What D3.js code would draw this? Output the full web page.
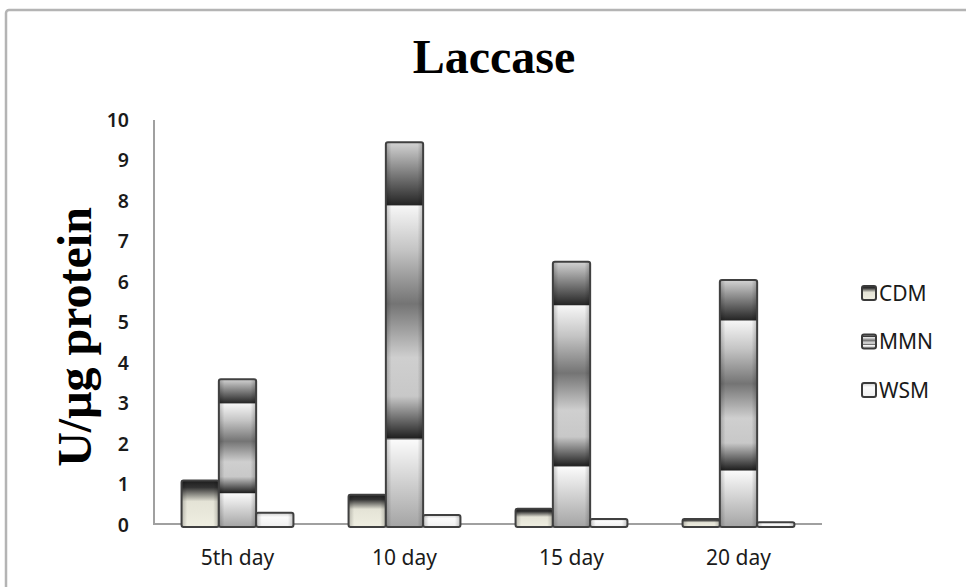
<!DOCTYPE html>
<html><head><meta charset="utf-8">
<script src="https://cdn.jsdelivr.net/npm/d3@7/dist/d3.min.js"></script>
<style>body{margin:0;background:#fff}svg{display:block}</style>
</head><body>
<svg id="chart" width="966" height="587"></svg>
<script>
const categories = ["5th day", "10 day", "15 day", "20 day"];
const seriesNames = ["CDM", "MMN", "WSM"];
const cdmValues = [1.1, 0.75, 0.4, 0.15];
const mmnValues = [3.6, 9.45, 6.5, 6.05];
const wsmValues = [0.3, 0.25, 0.15, 0.07];
const yTickValues = [0, 1, 2, 3, 4, 5, 6, 7, 8, 9, 10];

const seriesValues = {CDM: cdmValues, MMN: mmnValues, WSM: wsmValues};
const svg = d3.select("#chart");
const defs = svg.append("defs");

function grad(id, stops) {
  const g = defs.append("linearGradient").attr("id", id)
    .attr("x1", 0).attr("y1", 0).attr("x2", 0).attr("y2", 1);
  stops.forEach(s => g.append("stop").attr("offset", s[0]).attr("stop-color", s[1]));
}
grad("g-CDM", [[0, "#1c1c1c"], [0.15, "#333"], [0.45, "#e4e3d6"], [1, "#efeee1"]]);
grad("g-MMN", [[0, "#d4d4d4"], [0.162, "#262626"], [0.166, "#f6f6f6"], [0.28, "#c4c4c4"],
  [0.42, "#747474"], [0.56, "#cfcfcf"], [0.66, "#c8c8c8"], [0.768, "#222"], [0.775, "#fafafa"], [1, "#a4a4a4"]]);
grad("g-WSM", [[0, "#cfcfcf"], [0.3, "#fbfbfb"], [1, "#efefef"]]);
const hg = defs.append("linearGradient").attr("id", "g-edge").attr("x1", 0).attr("x2", 1).attr("y1", 0).attr("y2", 0);
[[0, 0.22], [0.15, 0], [0.85, 0], [1, 0.22]].forEach(s => hg.append("stop").attr("offset", s[0]).attr("stop-color", "#000").attr("stop-opacity", s[1]));

// outer frame
svg.append("rect").attr("x", 6).attr("y", 10).attr("width", 990).attr("height", 620)
  .attr("fill", "none").attr("stroke", "#b4b4b4").attr("stroke-width", 2.5).attr("rx", 3);

const x = d3.scaleBand().domain(categories).range([154, 822]).paddingInner(0.33).paddingOuter(0.165);
const xs = d3.scaleBand().domain(seriesNames).range([0, x.bandwidth()]);
const y = d3.scaleLinear().domain([0, 10]).range([525, 120]);

// axes lines
svg.append("line").attr("x1", 154).attr("x2", 154).attr("y1", y(10)).attr("y2", y(0) - 1).attr("stroke", "#a0a0a0").attr("stroke-width", 2);
svg.append("line").attr("x1", 153).attr("x2", 822).attr("y1", y(0) - 1).attr("y2", y(0) - 1).attr("stroke", "#a0a0a0").attr("stroke-width", 2);

// y ticks
const yAxis = svg.append("g").attr("transform", "translate(154,0)")
  .call(d3.axisLeft(y).tickValues(yTickValues).tickSize(0).tickPadding(25).tickFormat(d3.format("d")));
yAxis.select(".domain").remove();
yAxis.selectAll("text").attr("font-family", "Noto Sans").attr("font-size", 19.5).attr("fill", "#1a1a1a").attr("font-weight", 600);

// x labels
const xAxis = svg.append("g").attr("transform", `translate(0,${y(0)})`)
  .call(d3.axisBottom(x).tickSize(0).tickPadding(25));
xAxis.select(".domain").remove();
xAxis.selectAll("text").attr("font-family", "Noto Sans").attr("font-size", 21).attr("fill", "#1a1a1a");

// bars
const groups = svg.append("g").selectAll("g").data(categories).join("g")
  .attr("transform", d => `translate(${x(d)},0)`);
groups.each(function(cat, i) {
  const g = d3.select(this);
  seriesNames.forEach(s => {
    const v = seriesValues[s][i];
    const bx = xs(s), by = y(v), bw = xs.bandwidth(), bh = y(0) - y(v) + 2;
    g.append("rect").attr("x", bx).attr("y", by).attr("width", bw).attr("height", bh)
      .attr("fill", `url(#g-${s})`);
    g.append("rect").attr("x", bx).attr("y", by).attr("width", bw).attr("height", bh)
      .attr("fill", "url(#g-edge)").attr("stroke", "#404040").attr("stroke-width", 2).attr("rx", 2);
  });
});

// title
svg.append("text").attr("x", 494).attr("y", 73).attr("text-anchor", "middle")
  .attr("font-family", "Liberation Serif").attr("font-weight", "bold").attr("font-size", 48)
  .attr("fill", "#000").text("Laccase");

// y label
svg.append("text").attr("transform", "translate(91,337) rotate(-90)").attr("text-anchor", "middle")
  .attr("font-family", "Liberation Serif").attr("font-weight", "bold").attr("font-size", 48)
  .attr("fill", "#000").text("U/μg protein");

// legend
const legY = d3.scalePoint().domain(seriesNames).range([293, 390]);
const leg = svg.append("g").selectAll("g").data(seriesNames).join("g")
  .attr("transform", d => `translate(862,${legY(d)})`);
leg.append("rect").attr("x", 0).attr("y", -7).attr("width", 14).attr("height", 14).attr("rx", 2)
  .attr("fill", d => `url(#g-${d})`).attr("stroke", "#3a3a3a").attr("stroke-width", 2);
leg.append("text").attr("x", 17).attr("y", 0).attr("dy", "0.36em")
  .attr("font-family", "Noto Sans").attr("font-size", 21).attr("fill", "#1a1a1a").text(d => d);
</script>
</body></html>
